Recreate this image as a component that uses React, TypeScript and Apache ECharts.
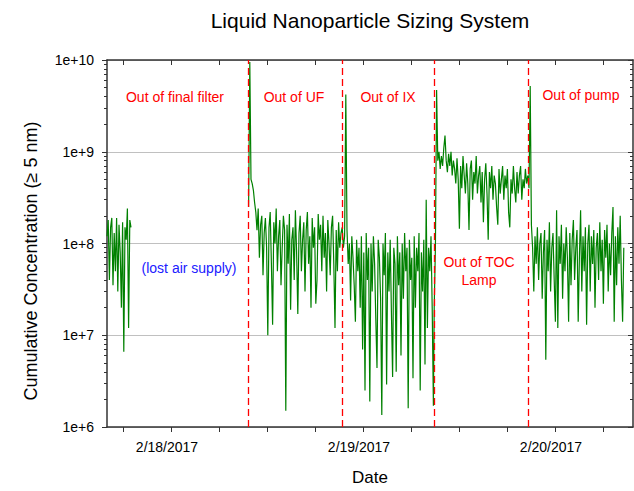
import React, { useEffect, useRef } from "react";
import * as echarts from "echarts";

const FONT = "'Liberation Sans', Arial, sans-serif";

// Sampling interval of the instrument (hours)
const STEP = 0.15;

// Hours are counted from 2/18/2017 00:00
const seg1Start = -8;
const seg1Values = [
  1.2e8, 1.8e8, 4e7, 1.5e8, 1.9e8, 3.5e7, 1.3e8, 5e7, 1.9e8, 3e7,
  1.6e8, 8e7, 2e7, 1.7e8, 6.6e6, 1.5e8, 1.1e8, 2.4e8, 1.2e7, 1.8e8,
  1.5e8,
];

const ufStart = 9.7;
const ufValues = [
  2.5e8, 9.5e9, 5e8, 4.5e8, 3.8e8, 2.8e8, 2.2e8, 1.4e8, 2.4e8, 7e7,
  1.6e8, 2e8, 4.5e7, 1.3e8, 1.9e8, 9e7, 1e7, 1.5e8, 2.2e8, 6e7,
  1.3e7, 1.7e8, 1e8, 2.4e8, 5e7, 1.2e8, 1.8e8, 3.5e7, 9e7, 2e8,
  1.4e8, 1.5e6, 1.6e8, 6e7, 2.1e8, 1.9e7, 1.1e8, 1.5e8, 4e7, 2.3e8,
  8e7, 1.7e7, 1.3e8, 2e8, 5e7, 1.1e8, 1.7e8, 3e7, 1.4e8, 2.2e8,
  6e7, 1.2e8, 2e7, 1.9e8, 9e7, 1.5e8, 2.2e7, 4e7, 2.1e8, 1.1e8,
  1.6e8, 5e7, 2e8, 7e7, 1.3e8, 3e7, 1.8e8, 1e8, 4.5e7, 1.5e8,
  2e8, 6e7, 1.2e7, 1.4e8, 5e7, 1.7e8, 9e7, 1.3e8,
];

const ixStart = 21.4;
const ixValues = [
  1.5e8, 9e7, 1.2e8, 4.2e9, 1.4e8, 6e7, 1e8, 2.4e7, 1.2e8, 7e7,
  3.5e7, 1.4e7, 1.1e8, 5e7, 9e7, 2e7, 1.2e8, 7e6, 8e7, 2.5e6,
  1.3e8, 4e7, 9e7, 1.9e6, 1e8, 3e7, 1.2e8, 6e7, 1.5e7, 4.4e6,
  1.1e8, 7e7, 2.5e7, 1.35e6, 1e8, 4.5e7, 1.3e8, 2.9e6, 8e7, 3e7,
  1.1e8, 1.8e7, 3.5e6, 9e7, 6e7, 4e6, 1.2e8, 3.5e7, 8e7, 6e6,
  1e8, 2.5e7, 1.3e8, 5e7, 9e7, 1.6e6, 1.1e8, 4e7, 7e7, 3.4e6,
  1.2e8, 2e7, 9e7, 5e7, 1.3e8, 2.5e6, 8e7, 3e7, 1.1e8, 4.8e6,
  3e8, 1.2e7, 9e7, 5e7, 1.2e8, 2e7, 1.7e6,
];

const tocStart = 32.9;
const tocValues = [
  2e7, 9e7, 4.7e9, 8e8, 1e9, 6.5e8, 9e8, 7e8, 1.1e9, 1.5e9,
  8e8, 6e8, 9.5e8, 7e8, 1e9, 5.5e8, 8e8, 6.5e8, 4.5e8, 8.5e8,
  5e8, 1.45e8, 7e8, 4e8, 9e8, 5.5e8, 3.5e8, 7.5e8, 4.5e8, 1.4e8,
  6.5e8, 8e8, 3e8, 6e8, 4.5e8, 9e8, 3.5e8, 5.5e8, 7e8, 2.8e8,
  6e8, 1.7e8, 5e8, 7.5e8, 3.5e8, 1.1e8, 6e8, 4e8, 7e8, 3e8,
  5.5e8, 4.5e8, 2.5e8, 1.6e8, 6.5e8, 3.5e8, 5e8, 7e8, 3e8, 5.5e8,
  4e8, 6.5e8, 2.2e8, 1.5e8, 5e8, 3.5e8, 7e8, 4e8, 2.8e8, 6e8,
  3.5e8, 5.5e8, 7e8, 3e8, 5e8, 4e8, 6.5e8, 4.5e8,
];

const pumpStart = 44.6;
const pumpValues = [
  5.5e8, 4e8, 5.2e9, 1.6e8, 9e7, 3e7, 1.2e8, 6e7, 1.5e8, 4e7,
  1e8, 1.3e8, 2.5e7, 8e7, 1.4e8, 5.4e6, 1.1e8, 5e7, 1.7e8, 3e7,
  9e7, 1.3e8, 4e7, 1.4e7, 2.3e8, 1.2e7, 1.2e8, 6e7, 1.6e8, 2.5e7,
  1e8, 5e7, 1.5e8, 7e7, 1.4e7, 1.3e8, 3.5e7, 1.1e8, 1.8e8, 4e7,
  9e7, 1.4e8, 1.4e7, 7e7, 2.3e8, 3e7, 1.2e8, 5e7, 1.5e8, 1.3e7,
  1e8, 1.6e8, 3e7, 1.2e8, 6e7, 1.4e8, 2e7, 9e7, 1.3e8, 4e7,
  1.7e8, 5e7, 1.1e8, 2.2e7, 1.4e8, 7e7, 1.6e8, 3e7, 1e8, 4.5e7,
  1.3e8, 2.5e8, 1.4e7, 1.2e8, 3.5e7, 1.5e8, 6e7, 2e8, 4e7, 1.4e7,
  9e7,
];

// Times (hours) of the vertical red dashed event lines
const eventHours = [9.7, 21.4, 32.9, 44.6];

const xMin = -8;
const xMax = 57.75;
const hourTicks = [-6, 0, 6, 12, 18, 24, 30, 36, 42, 48, 54];
const dayTicks = [0, 24, 48];
const dayLabels = ["2/18/2017", "2/19/2017", "2/20/2017"];

const yMin = 1e6;
const yMax = 1e10;
const yDecades = [6, 7, 8, 9, 10];
const yLabels = ["1e+6", "1e+7", "1e+8", "1e+9", "1e+10"];
const minorMultipliers = [2, 3, 4, 5, 6, 7, 8, 9];

const annotations = [
  { text: "Out of final filter", x: 175, y: 97, color: "#ff0000" },
  { text: "Out of UF", x: 294, y: 97, color: "#ff0000" },
  { text: "Out of IX", x: 388, y: 97, color: "#ff0000" },
  { text: "Out of TOC", x: 479, y: 262, color: "#ff0000" },
  { text: "Lamp", x: 479, y: 280, color: "#ff0000" },
  { text: "Out of pump", x: 581, y: 95, color: "#ff0000" },
  { text: "(lost air supply)", x: 189, y: 268, color: "#2020ff" },
];

const toPoints = (start: number, values: number[]) =>
  values.map((v, i) => [+(start + i * STEP).toFixed(3), v]);

export default function App() {
  const ref = useRef<HTMLDivElement>(null);

  useEffect(() => {
    document.body.style.margin = "0";
    if (!ref.current) return;
    const chart = echarts.init(ref.current, undefined, { renderer: "svg" });

    const mainData = [
      ...toPoints(ufStart, ufValues),
      ...toPoints(ixStart, ixValues),
      ...toPoints(tocStart, tocValues),
      ...toPoints(pumpStart, pumpValues),
    ];
    const minorExp: number[] = [];
    yDecades.slice(0, -1).forEach((d) =>
      minorMultipliers.forEach((m) => minorExp.push(Math.log10(m * Math.pow(10, d))))
    );

    const frameLine = { show: true, onZero: false, lineStyle: { color: "#333", width: 1.5 } };
    const tickStyle = { color: "#333", width: 1 };
    const lineColor = "#008000";

    const option: any = {
      animation: false,
      backgroundColor: "#ffffff",
      textStyle: { fontFamily: FONT },
      grid: { left: 107, right: 1, top: 60, bottom: 62 },
      xAxis: [
        {
          type: "value",
          min: xMin,
          max: xMax,
          position: "bottom",
          name: "Date",
          nameLocation: "middle",
          nameGap: 42,
          nameTextStyle: { fontSize: 17, color: "#000", fontFamily: FONT },
          axisLine: frameLine,
          axisTick: { show: true, inside: false, length: 5, customValues: hourTicks, lineStyle: tickStyle },
          axisLabel: {
            show: true,
            customValues: dayTicks,
            formatter: (v: number) => dayLabels[dayTicks.indexOf(Math.round(v))] ?? "",
            fontSize: 14,
            color: "#000",
            margin: 13,
            padding: [0, 8, 0, 0],
            fontFamily: FONT,
          },
          splitLine: { show: false },
        },
        {
          type: "value",
          min: xMin,
          max: xMax,
          position: "top",
          axisLine: frameLine,
          axisTick: { show: true, inside: true, length: 5, customValues: hourTicks, lineStyle: tickStyle },
          axisLabel: { show: false },
          splitLine: { show: false },
        },
      ],
      yAxis: [
        {
          type: "log",
          logBase: 10,
          min: yMin,
          max: yMax,
          position: "left",
          axisLine: frameLine,
          axisTick: { show: true, inside: false, length: 5, lineStyle: tickStyle },
          axisLabel: {
            formatter: (v: number) => yLabels[Math.round(Math.log10(v)) - yDecades[0]] ?? "",
            fontSize: 14,
            color: "#000",
            margin: 13,
            fontFamily: FONT,
          },
          splitLine: { show: true, lineStyle: { color: "#c0c0c0", width: 1 } },
        },
        {
          type: "log",
          logBase: 10,
          min: yMin,
          max: yMax,
          position: "right",
          axisLine: frameLine,
          axisTick: { show: true, inside: true, length: 5, lineStyle: tickStyle },
          axisLabel: { show: false },
          splitLine: { show: false },
        },
        {
          type: "value",
          min: yDecades[0],
          max: yDecades[yDecades.length - 1],
          position: "left",
          axisLine: { show: false, onZero: false },
          axisTick: { show: true, inside: false, length: 3, customValues: minorExp, lineStyle: tickStyle },
          axisLabel: { show: false },
          splitLine: { show: false },
        },
        {
          type: "value",
          min: yDecades[0],
          max: yDecades[yDecades.length - 1],
          position: "right",
          axisLine: { show: false, onZero: false },
          axisTick: { show: true, inside: true, length: 3, customValues: minorExp, lineStyle: tickStyle },
          axisLabel: { show: false },
          splitLine: { show: false },
        },
      ],
      series: [
        {
          type: "line",
          name: "before",
          xAxisIndex: 0,
          yAxisIndex: 0,
          data: toPoints(seg1Start, seg1Values),
          symbol: "none",
          showSymbol: false,
          lineStyle: { color: lineColor, width: 1.2 },
          itemStyle: { color: lineColor },
        },
        {
          type: "line",
          name: "after",
          xAxisIndex: 0,
          yAxisIndex: 0,
          data: mainData,
          symbol: "none",
          showSymbol: false,
          lineStyle: { color: lineColor, width: 1.2 },
          itemStyle: { color: lineColor },
          markLine: {
            silent: true,
            symbol: ["none", "none"],
            label: { show: false },
            lineStyle: { color: "#ff0000", type: [7, 4], width: 1.3 },
            data: eventHours.map((h) => ({ xAxis: h })),
          },
        },
      ],
      graphic: [
        {
          type: "text",
          x: 370,
          y: 20,
          style: {
            text: "Liquid Nanoparticle Sizing System",
            fill: "#000",
            font: `21px ${FONT}`,
            align: "center",
            verticalAlign: "middle",
            textAlign: "center",
            textVerticalAlign: "middle",
          },
        },
        {
          type: "text",
          x: 31,
          y: 261,
          rotation: Math.PI / 2,
          style: {
            text: "Cumulative Concentration (≥ 5 nm)",
            fill: "#000",
            font: `18px ${FONT}`,
            align: "center",
            verticalAlign: "middle",
            textAlign: "center",
            textVerticalAlign: "middle",
          },
        },
        ...annotations.map((a) => ({
          type: "text",
          x: a.x,
          y: a.y,
          z: 10,
          style: {
            text: a.text,
            fill: a.color,
            font: `14px ${FONT}`,
            align: "center",
            verticalAlign: "middle",
            textAlign: "center",
            textVerticalAlign: "middle",
          },
        })),
      ],
    };

    chart.setOption(option);
    return () => chart.dispose();
  }, []);

  return <div ref={ref} style={{ width: 634, height: 491 }} />;
}
